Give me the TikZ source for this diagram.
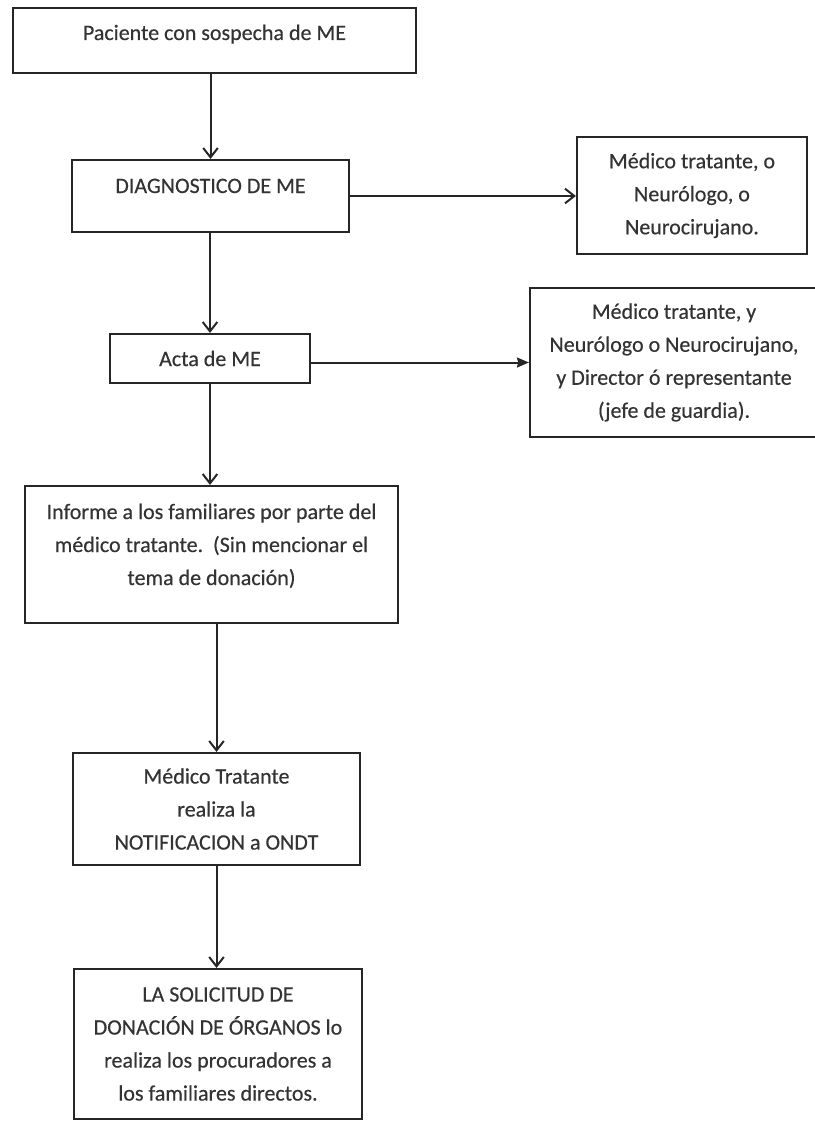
\documentclass[tikz,border=0pt]{standalone}
\usepackage{fontspec}
\setmainfont{Carlito}
\newfontfamily\cajafont{Carlito}[FakeBold=0.4]
\usetikzlibrary{arrows.meta}

\begin{document}
\begin{tikzpicture}[x=0.75pt,y=-0.75pt,
  caja/.style={draw=black!85, line width=1.6pt, align=center, inner sep=0pt,
    text=black!80, font=\cajafont\fontsize{16.5}{24.75}\selectfont},
  flecha/.style={-{Straight Barb[length=7pt,width=11pt]}, line width=1.5pt, draw=black!85},
  flechallena/.style={-{Stealth[length=9pt,width=7.5pt,inset=1pt]}, line width=1.5pt, draw=black!85}]
\useasboundingbox (0,0) rectangle (814,1124);
\node[caja, minimum width=302.25pt, text height=24pt, text depth=24.75pt] (paciente) at (214.5,40.5) {Paciente con sospecha de ME};
\node[caja, minimum width=207.75pt, text height=24.75pt, text depth=29.25pt] (diag) at (210.5,196) {DIAGNOSTICO DE ME};
\node[caja, minimum width=172.5pt, minimum height=87.75pt] (medico1) at (692,195.5) {Médico tratante, o\\Neurólogo, o\\Neurocirujano.};
\node[caja, minimum width=150pt, minimum height=36.75pt] (acta) at (210,358.5) {Acta de ME};
\node[caja, minimum width=216pt, minimum height=111.75pt] (medico2) at (674,362.5) {Médico tratante, y\\Neurólogo o Neurocirujano,\\y Director ó representante\\(jefe de guardia).};
\node[caja, minimum width=279.75pt] (informe) at (211.5,554.5) {\rule{0pt}{24.75pt}Informe a los familiares por parte del\\médico tratante.\ \ (Sin mencionar el\\tema de donación)\rule[-28.5pt]{0pt}{28.5pt}};
\node[caja, minimum width=215.25pt, minimum height=84pt] (notif) at (216.5,809) {Médico Tratante\\realiza la\\NOTIFICACION a ONDT};
\node[caja, minimum width=216pt, minimum height=112.5pt] (solicitud) at (218,1044) {LA SOLICITUD DE\\DONACIÓN DE ÓRGANOS lo\\realiza los procuradores a\\los familiares directos.};
\draw[flecha] (diag.north |- paciente.south) -- (diag.north);
\draw[flecha] (diag.east) -- (diag.east -| medico1.west);
\draw[flecha] (acta.north |- diag.south) -- (acta.north);
\draw[flechallena] (acta.east |- medico2.west) -- (medico2.west);
\draw[flecha] (acta.south) -- (acta.south |- informe.north);
\draw[flecha] (notif.north |- informe.south) -- (notif.north);
\draw[flecha] (notif.south) -- (notif.south |- solicitud.north);
\end{tikzpicture}
\end{document}
